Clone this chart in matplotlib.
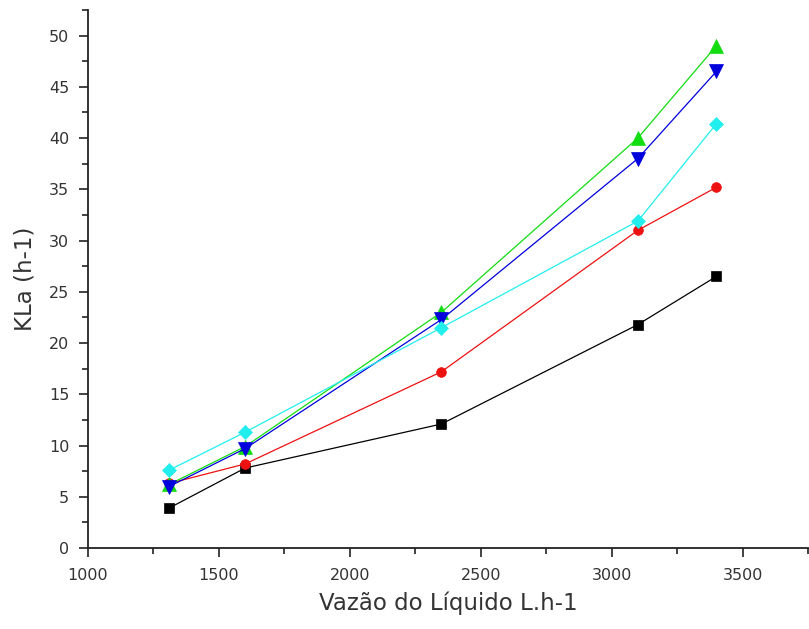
import matplotlib
matplotlib.use("Agg")
import matplotlib.pyplot as plt
from matplotlib.ticker import MultipleLocator

plt.rcParams['font.family'] = ['DejaVu Sans']

x = [1310, 1600, 2350, 3100, 3400]
black_sq = [3.9, 7.8, 12.1, 21.8, 26.5]
red_circ = [6.3, 8.2, 17.2, 31.0, 35.2]
green_up = [6.2, 9.9, 23.0, 40.0, 49.0]
blue_down = [6.0, 9.7, 22.3, 38.0, 46.5]
cyan_diam = [7.6, 11.3, 21.5, 31.9, 41.4]

series = [
    (black_sq, 's', '#000000', 7),
    (red_circ, 'o', '#ee1111', 7),
    (green_up, '^', '#11dd11', 9.5),
    (blue_down, 'v', '#0000dd', 9.5),
    (cyan_diam, 'D', '#22eeee', 7),
]

fig = plt.figure(figsize=(8.09, 6.29), dpi=100)
ax = fig.add_axes([88/809, 81/629, 720/809, 538/629])

for ys, m, c, ms in series:
    ax.plot(x, ys, color=c, lw=0.9, marker=m, markersize=ms,
            markerfacecolor=c, markeredgecolor=c, markeredgewidth=0.5)

ax.set_xlim(1000, 3750)
ax.set_ylim(0, 52.5)
ax.xaxis.set_major_locator(MultipleLocator(500))
ax.xaxis.set_minor_locator(MultipleLocator(250))
ax.yaxis.set_major_locator(MultipleLocator(5))
ax.yaxis.set_minor_locator(MultipleLocator(2.5))

for s in ['top', 'right']:
    ax.spines[s].set_visible(False)
for s in ['left', 'bottom']:
    ax.spines[s].set_linewidth(1.3)
    ax.spines[s].set_color('#222222')

ax.tick_params(axis='both', which='major', direction='out', length=6.5, width=1.2,
               labelsize=11.5, labelcolor='#333333', color='#222222')
ax.tick_params(axis='both', which='minor', direction='out', length=4.5, width=1.2,
               color='#222222')
ax.tick_params(axis='x', which='major', pad=8)
ax.tick_params(axis='y', which='major', pad=7)

ax.set_xlabel('Vazão do Líquido L.h-1', fontsize=16.5, color='#333333', labelpad=6)
ax.set_ylabel('KLa (h-1)', fontsize=16.5, color='#333333', labelpad=9)

fig.savefig('out.png', dpi=100)
